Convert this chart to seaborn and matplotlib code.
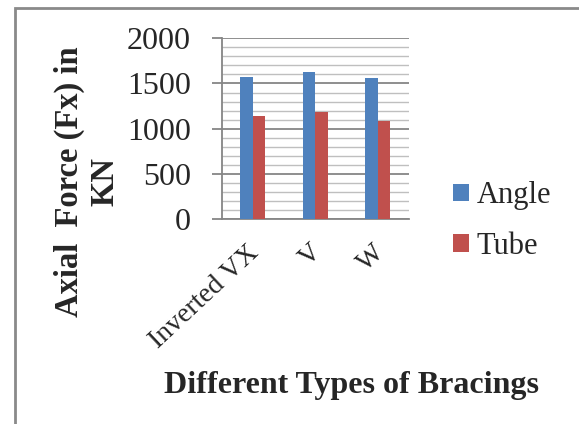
import matplotlib
matplotlib.use("Agg")
import matplotlib.pyplot as plt
import matplotlib.transforms as mtransforms
import seaborn as sns
import pandas as pd
from matplotlib.patches import Rectangle, Patch
from matplotlib.ticker import MultipleLocator

categories = ["Inverted VX", "V", "W"]
angle_values = [1576, 1631, 1557]
tube_values = [1140, 1188, 1089]
series_names = ["Angle", "Tube"]
colors = ["#4F81BD", "#C0504D"]
yticks = [0, 500, 1000, 1500, 2000]

df = pd.DataFrame({
    "Bracing": categories * 2,
    "Series": [series_names[0]] * 3 + [series_names[1]] * 3,
    "Force": angle_values + tube_values,
})

sns.set_theme(style="white")
plt.rcParams["font.family"] = ["Liberation Serif", "DejaVu Serif"]

W, H = 579, 424
fig = plt.figure(figsize=(W / 100, H / 100), dpi=100)
ax = fig.add_axes([221.5 / W, 1 - 219 / H, (409 - 221.5) / W, (219 - 38.3) / H])

sns.barplot(data=df, x="Bracing", y="Force", hue="Series", palette=colors,
            width=0.4, saturation=1, ax=ax, legend=False, zorder=3)
for p in ax.patches:
    p.set_edgecolor("none")

ax.set_ylim(0, 2000)
ax.set_xlim(-0.5, 2.5)
ax.set_yticks(yticks)
ax.set_yticklabels([str(v) for v in yticks])
ax.yaxis.set_minor_locator(MultipleLocator(100))
ax.grid(which="major", axis="y", color="#868686", linewidth=1.3, zorder=0)
ax.grid(which="minor", axis="y", color="#BFBFBF", linewidth=1.0, zorder=0)
ax.set_axisbelow(True)
for s in ["top", "right"]:
    ax.spines[s].set_visible(False)
ax.spines["left"].set_color("#868686")
ax.spines["left"].set_linewidth(1.3)
ax.spines["bottom"].set_color("#868686")
ax.spines["bottom"].set_linewidth(1.3)

ax.tick_params(axis="y", which="major", length=7, width=1.3, color="#868686",
               pad=15, labelsize=23, left=True)
ax.tick_params(axis="y", which="minor", length=0)
ax.tick_params(axis="x", length=0, pad=15, labelsize=20)
offset = mtransforms.ScaledTranslation(-6 / 100, 0, fig.dpi_scale_trans)
for lbl in ax.get_xticklabels():
    lbl.set_rotation(43)
    lbl.set_ha("right")
    lbl.set_va("top")
    lbl.set_rotation_mode("anchor")
    lbl.set_transform(lbl.get_transform() + offset)

ax.set_xlabel("")
ax.set_ylabel("")

fig.text(87 / W, 1 - 182 / H, "Axial  Force (Fx) in\nKN", rotation=90,
         ha="center", va="center", fontsize=23.5, fontweight="bold",
         multialignment="center", linespacing=1.2)
fig.text(352 / W, 1 - 385 / H, "Different Types of Bracings", ha="center",
         va="center", fontsize=23, fontweight="bold")

handles = [Patch(facecolor=c, edgecolor="none") for c in colors]
fig.legend(handles, series_names, loc="center left",
           bbox_to_anchor=(453 / W, 1 - 221 / H), frameon=False,
           fontsize=22, handlelength=0.52, handleheight=0.52,
           handletextpad=0.26, labelspacing=0.7, borderpad=0,
           borderaxespad=0)

fig.patches.append(Rectangle((15 / W, -0.1), 1.2, 1 - 8 / H + 0.1,
                             transform=fig.transFigure, fill=False,
                             edgecolor="#8A8A8A", linewidth=2))

fig.savefig("out.png", dpi=100)
